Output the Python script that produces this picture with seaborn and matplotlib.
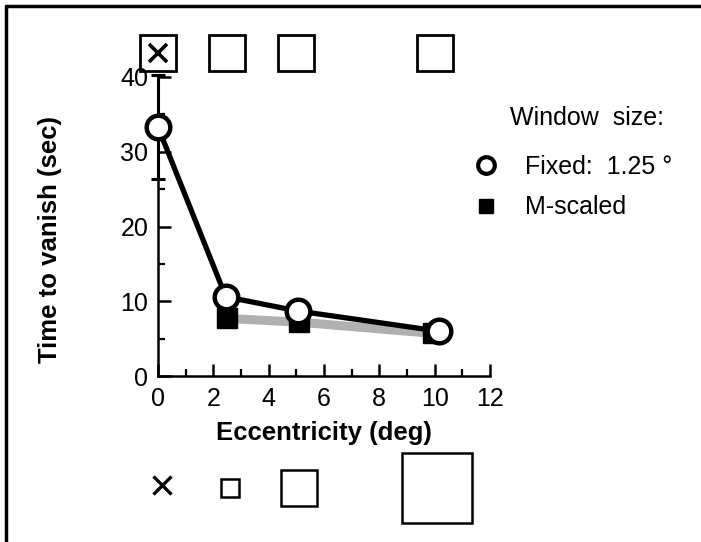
import numpy as np
import pandas as pd
import matplotlib
matplotlib.use("Agg")
import matplotlib.pyplot as plt
import seaborn as sns
from matplotlib.lines import Line2D
from matplotlib.transforms import blended_transform_factory

# ---- data ----
fixed_ecc = [0.0, 2.45, 5.05, 10.15]
fixed_time = [33.3, 10.6, 8.7, 6.0]
fixed_err = [7.0, 0.0, 0.0, 0.0]
mscaled_ecc = [2.5, 5.1, 9.95]
mscaled_time = [7.7, 7.2, 5.7]
window_ecc = [0, 2.5, 5, 10]
x_ticks = [0, 2, 4, 6, 8, 10, 12]
y_ticks = [0, 10, 20, 30, 40]

fixed_df = pd.DataFrame({"ecc": fixed_ecc, "time": fixed_time})
msc_df = pd.DataFrame({"ecc": mscaled_ecc, "time": mscaled_time})

sns.set_theme(style="ticks")
plt.rcParams["font.family"] = ["Liberation Sans", "DejaVu Sans"]
plt.rcParams["text.color"] = "black"
plt.rcParams["axes.labelcolor"] = "black"
plt.rcParams["xtick.color"] = "black"
plt.rcParams["ytick.color"] = "black"

W, H = 701, 542
fig = plt.figure(figsize=(W / 100, H / 100), dpi=100)
ax = fig.add_axes([158 / W, 166 / H, 332 / W, 299 / H])

# M-scaled: grey band + black squares
sns.lineplot(data=msc_df, x="ecc", y="time", ax=ax, color="#b0b0b0",
             lw=6.5, zorder=1, sort=False)
ax.errorbar(fixed_ecc, fixed_time, yerr=fixed_err, fmt="none", ecolor="black",
            elinewidth=2.2, capsize=5, capthick=2.2, zorder=2, clip_on=False)
ax.plot(mscaled_ecc, mscaled_time, ls="none", marker="s", ms=14,
        mfc="black", mec="black", zorder=3, clip_on=False)
# Fixed: thick black line with open circles
sns.lineplot(data=fixed_df, x="ecc", y="time", ax=ax, color="black",
             lw=3.8, zorder=4, sort=False)
ax.plot(fixed_ecc, fixed_time, ls="none", marker="o", ms=17, mfc="white",
        mec="black", mew=3.2, zorder=5, clip_on=False)

ax.set_xlim(0, 12)
ax.set_ylim(0, 40)
ax.set_xticks(x_ticks)
ax.set_yticks(y_ticks)
ax.set_xticks(np.arange(1, 12, 2), minor=True)
ax.set_yticks(np.arange(5, 40, 10), minor=True)
ax.tick_params(which="major", direction="in", length=9, width=1.8,
               labelsize=18, colors="black")
ax.tick_params(axis="x", which="major", pad=8)
ax.tick_params(axis="y", which="major", pad=7)
ax.tick_params(which="minor", direction="in", length=5, width=1.6,
               colors="black")
for s in ["top", "right"]:
    ax.spines[s].set_visible(False)
for s in ["left", "bottom"]:
    ax.spines[s].set_linewidth(1.8)
    ax.spines[s].set_color("black")

ax.set_xlabel("Eccentricity (deg)", fontsize=18.5, fontweight="bold")
ax.set_ylabel("Time to vanish (sec)", fontsize=18.5, fontweight="bold")
ax.xaxis.set_label_coords(0.5, -0.15)
ax.yaxis.set_label_coords(-0.288, 0.455)

# window-size icons above and below
tr = blended_transform_factory(ax.transData, ax.transAxes)
ax.plot(window_ecc, [1.08] * 4, transform=tr, ls="none", marker="s", ms=26.5,
        mfc="none", mec="black", mew=2.0, clip_on=False)
ax.plot(window_ecc[:1], [1.08], transform=tr, ls="none", marker="x", ms=13,
        mec="black", mew=2.6, clip_on=False)
ax.plot([window_ecc[0] + 0.14], [-0.365], transform=tr, ls="none", marker="x",
        ms=13, mec="black", mew=2.4, clip_on=False)
bottom_sizes = [13, 26, 50]
for xe, sz in zip(window_ecc[1:], bottom_sizes):
    ax.plot([xe + 0.1], [-0.375], transform=tr, ls="none", marker="s", ms=sz,
            mfc="none", mec="black", mew=1.8, clip_on=False)

# legend
fig.text(510 / W, 1 - 118 / H, "Window  size:", fontsize=18, va="center",
         ha="left")
handles = [
    Line2D([], [], ls="none", marker="o", ms=12, mfc="white", mec="black",
           mew=3.0),
    Line2D([], [], ls="none", marker="s", ms=10, mfc="black", mec="black"),
]
fig.legend(handles, ["Fixed:  1.25 \u00b0", "M-scaled"], loc="center left",
           bbox_to_anchor=(471 / W, 1 - 187 / H), frameon=False, fontsize=18,
           handlelength=1.2, handletextpad=0.95, labelspacing=0.68,
           borderpad=0, borderaxespad=0)

# figure border (top and left)
fig.add_artist(Line2D([6 / W, 1], [1 - 6 / H, 1 - 6 / H], color="black",
                      lw=2.5, transform=fig.transFigure))
fig.add_artist(Line2D([6 / W, 6 / W], [0, 1 - 6 / H], color="black",
                      lw=2.5, transform=fig.transFigure))

fig.savefig("out.png", dpi=100)
